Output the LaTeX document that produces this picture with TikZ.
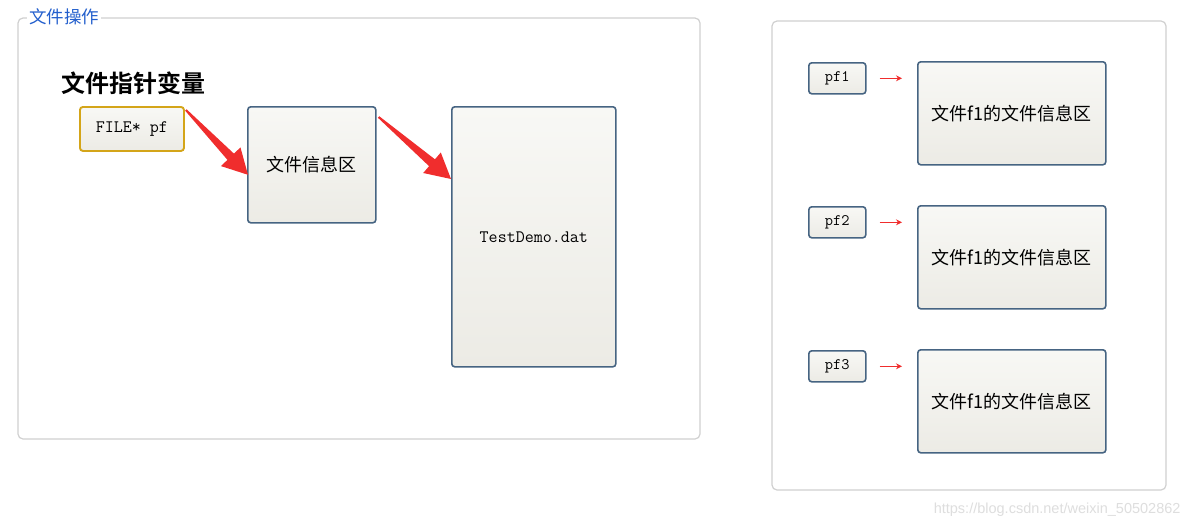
\documentclass[tikz,border=0pt]{standalone}
\usepackage{fontspec}
\newfontfamily\cjk[BoldFont={Noto Sans CJK SC Bold}]{Noto Sans CJK SC}
\newfontfamily\wmfont{Liberation Sans}
\usetikzlibrary{arrows.meta,calc}
\definecolor{framegray}{RGB}{208,208,208}
\definecolor{boxline}{RGB}{70,100,130}
\definecolor{boxtop}{RGB}{248,248,245}
\definecolor{boxbot}{RGB}{236,235,229}
\definecolor{goldline}{RGB}{212,165,25}
\definecolor{titleblue}{RGB}{35,95,205}
\definecolor{arrowred}{RGB}{240,45,45}
\definecolor{wmgray}{RGB}{222,222,222}
\newcommand\fatarrow[2]{%
  \fill[arrowred] (#1)
    -- ($(#1)!1pt!90:(#2)$)
    -- ($($(#2)!25pt!(#1)$)!4.5pt!90:(#2)$)
    -- ($($(#2)!25pt!(#1)$)!13.5pt!90:(#2)$)
    -- (#2)
    -- ($($(#2)!25pt!(#1)$)!13.5pt!-90:(#2)$)
    -- ($($(#2)!25pt!(#1)$)!4.5pt!-90:(#2)$)
    -- ($(#1)!1pt!-90:(#2)$)
    -- cycle;}
\begin{document}
\begin{tikzpicture}[x=1pt,y=-1pt,
  panel/.style={draw=framegray,line width=1.2pt,rounded corners=5pt},
  cell/.style={draw=boxline,line width=1.6pt,rounded corners=3pt,
    top color=boxtop,bottom color=boxbot,anchor=north west,inner sep=0pt,
    font=\cjk\fontsize{18}{21}\selectfont},
  ptr/.style={cell,font=\ttfamily\fontsize{17.5}{20}\selectfont},
  smallptr/.style={ptr,minimum width=57pt,minimum height=31pt,
    font=\ttfamily\fontsize{16}{18}\selectfont},
  infocell/.style={cell,minimum width=188pt,minimum height=103pt},
  thinarrow/.style={draw=arrowred,line width=1.3pt,-{Stealth[length=6pt,width=6pt]},
    shorten <=13pt,shorten >=15pt}
]
\fill[white] (0,0) rectangle (1193,528);
\useasboundingbox (0,0) rectangle (1193,528);

% left panel
\draw[panel] (18,18) rectangle (700,439);
\node[fill=white,inner xsep=2pt,inner ysep=1pt,anchor=west,text=titleblue,
  font=\cjk\fontsize{17.5}{19}\selectfont] (title) at (27,17) {文件操作};
\node[anchor=west,font=\cjk\bfseries\fontsize{24}{27}\selectfont] (head) at (58,83) {文件指针变量};

\node[ptr,draw=goldline,line width=1.9pt,minimum width=104pt,minimum height=44pt] (fp) at (79,106) {FILE* pf};
\node[cell,minimum width=128pt,minimum height=116pt] (info) at (247,106) {文件信息区};
\node[ptr,minimum width=164pt,minimum height=260pt] (dat) at (451,106) {TestDemo.dat};

\coordinate (a1s) at ($(fp.north east)+(1,4)$);
\coordinate (a1t) at ($(info.west)+(1,10)$);
\coordinate (a2s) at ($(info.north east)+(2,11)$);
\coordinate (a2t) at ($(dat.north west)+(0,73)$);
\fatarrow{a1s}{a1t}
\fatarrow{a2s}{a2t}

% right panel
\draw[panel] (772,21) rectangle (1166,490);
\node[smallptr] (p1) at (808,62) {pf1};
\node[smallptr] (p2) at (808,206) {pf2};
\node[smallptr] (p3) at (808,350) {pf3};
\node[infocell] (i1) at (917,61) {文件f1的文件信息区};
\node[infocell] (i2) at (917,205) {文件f1的文件信息区};
\node[infocell] (i3) at (917,349) {文件f1的文件信息区};
\draw[thinarrow] (p1.east) -- (p1.east -| i1.west);
\draw[thinarrow] (p2.east) -- (p2.east -| i2.west);
\draw[thinarrow] (p3.east) -- (p3.east -| i3.west);

\node[anchor=east,text=wmgray,font=\wmfont\fontsize{14.5}{16}\selectfont] (wm) at (1184,510)
  {https://blog.csdn.net/weixin\_50502862};
\end{tikzpicture}
\end{document}
